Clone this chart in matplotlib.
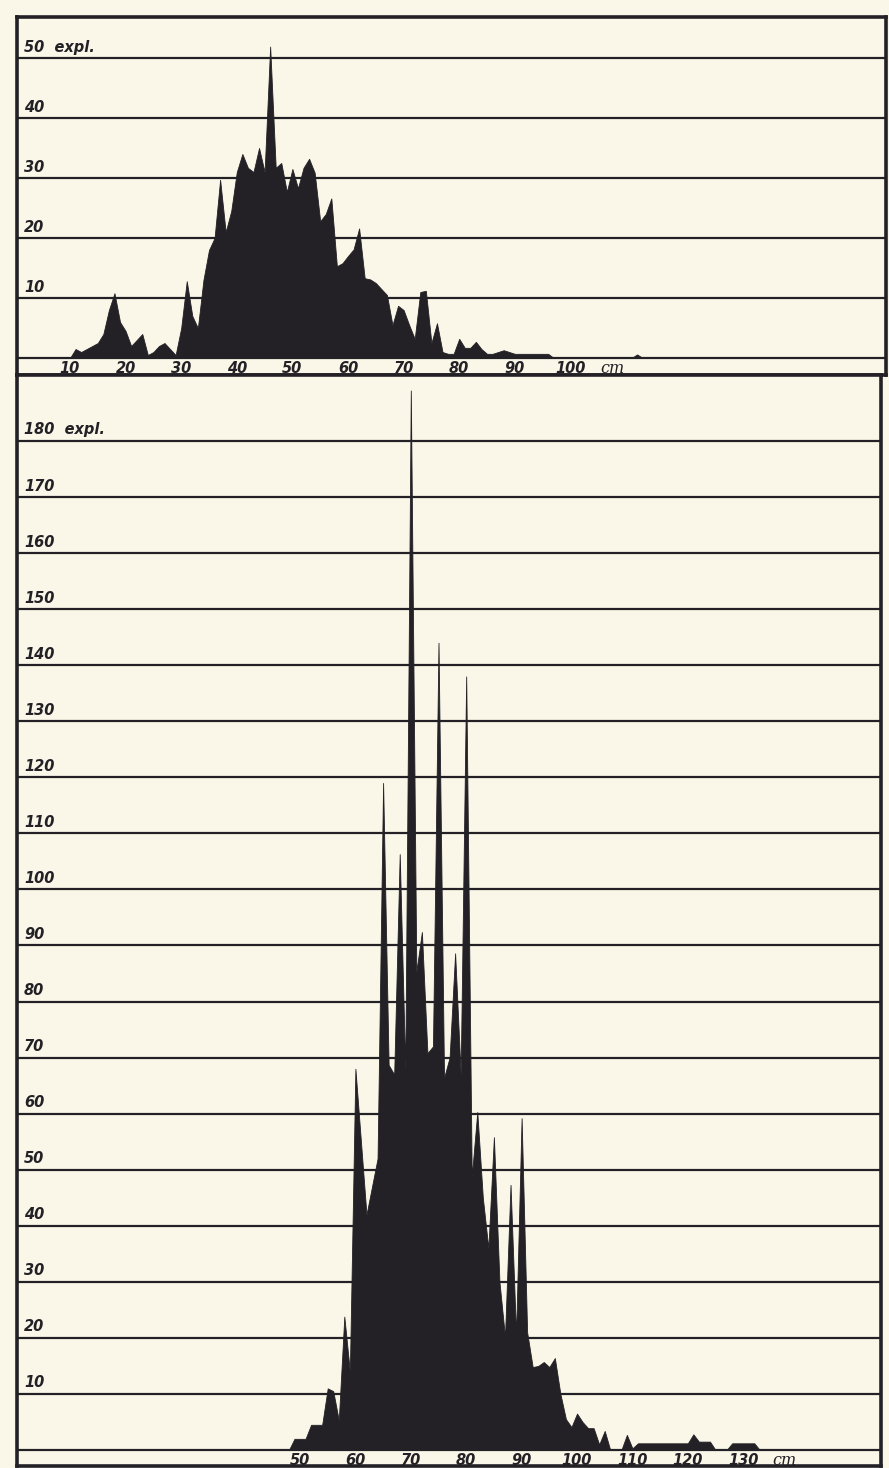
import matplotlib
matplotlib.use("Agg")
import matplotlib.pyplot as plt

# ---------------- data ----------------
# upper panel: counts per cm length class
top_cm = list(range(10, 98)) + [111, 112, 113]
top_counts = [0, 1.5, 1, 1.5, 2, 2.5, 4, 8, 10.8, 6,            # 10-19
              4.5, 2, 3, 4, 0.5, 1, 2, 2.5, 1.5, 0.5,           # 20-29
              5, 12.8, 7, 5, 13, 18, 20, 29.7, 21, 24.5,        # 30-39
              31, 34, 31.7, 31, 35, 31, 51.9, 31.7, 32.5, 27.7, # 40-49
              31.5, 28.3, 31.7, 33.2, 30.9, 22.8, 24, 26.6, 15.3, 15.8,  # 50-59
              17, 18.1, 21.6, 13.3, 13.1, 12.5, 11.5, 10.5, 5.5, 8.7,   # 60-69
              8, 5.5, 3.2, 11, 11.2, 2.5, 5.8, 1, 0.7, 0.7,     # 70-79
              3.2, 1.7, 1.7, 2.7, 1.5, 0.7, 0.7, 1, 1.3, 1,     # 80-89
              0.7, 0.7, 0.7, 0.7, 0.7, 0.7, 0.7, 0,             # 90-97
              0, 0.6, 0]                                        # 111-113

# lower panel: counts per cm length class
bot_cm = list(range(48, 134))
bot_counts = [0, 2, 2, 2, 4.5, 4.5, 4.5, 11, 10.5, 5.3,        # 48-57
              23.8, 14, 68, 55, 42, 47, 52, 119, 68.7, 67,      # 58-67
              106.3, 67.8, 189, 85.3, 92.4, 70.8, 72, 144, 66.4, 70,  # 68-77
              88.6, 67, 138, 48.7, 60.3, 45, 36, 55.8, 30, 20.2,      # 78-87
              47.3, 20.5, 59.2, 21, 14.8, 15, 15.7, 14.8, 16.4, 10,   # 88-97
              5.5, 4.1, 6.5, 5, 3.9, 3.9, 1, 3.4, 0, 0,         # 98-107
              0, 2.7, 0.3, 1.2, 1.2, 1.2, 1.2, 1.2, 1.2, 1.2,   # 108-117
              1.2, 1.2, 1.2, 2.8, 1.5, 1.5, 1.5, 0, 0, 0,       # 118-127
              1.2, 1.2, 1.2, 1.2, 1.2, 0]                       # 128-133

top_yticks = [10, 20, 30, 40, 50]
top_xticks = [10, 20, 30, 40, 50, 60, 70, 80, 90, 100]
bot_yticks = [10, 20, 30, 40, 50, 60, 70, 80, 90, 100, 110, 120,
              130, 140, 150, 160, 170, 180]
bot_xticks = [50, 60, 70, 80, 90, 100, 110, 120, 130]
unit_y = "expl."
unit_x = "cm"

# ---------------- style ----------------
PAPER = "#faf7e9"
INK = "#232126"
W, H = 889, 1468
FONT = dict(family="DejaVu Sans", style="italic", weight="bold", size=10.5, color=INK)

fig = plt.figure(figsize=(W / 100, H / 100), dpi=100, facecolor=PAPER)


def add_ax(x0, y0, x1, y1):
    return fig.add_axes([x0 / W, 1 - y1 / H, (x1 - x0) / W, (y1 - y0) / H])


def style_panel(ax, xlim, ylim, yticks, xticks, unit_x_pos):
    ax.set_facecolor(PAPER)
    ax.set_xlim(*xlim)
    ax.set_ylim(*ylim)
    ax.set_xticks([])
    ax.set_yticks([])
    for s in ax.spines.values():
        s.set_linewidth(2.6)
        s.set_color(INK)
    for v in [0] + yticks:
        ax.axhline(v, color=INK, lw=1.6, zorder=1)
    for v in yticks:
        lab = f"{v}" + (f"  {unit_y}" if v == yticks[-1] else "")
        ax.annotate(lab, xy=(0.008, v), xycoords=("axes fraction", "data"),
                    xytext=(0, 2.5), textcoords="offset points",
                    ha="left", va="bottom", **FONT)
    for v in xticks:
        ax.annotate(f"{v}", xy=(v, 0), xycoords="data",
                    xytext=(0, -2.0), textcoords="offset points",
                    ha="center", va="top", **FONT)
    ax.annotate(unit_x, xy=(unit_x_pos, 0), xycoords="data",
                xytext=(0, -1.5), textcoords="offset points",
                ha="center", va="top", family="DejaVu Serif",
                style="italic", size=11.5, color=INK)


# upper panel
ax1 = add_ax(17, 17, 886, 375)
style_panel(ax1, (0.47, 156.76), (-2.83, 56.83), top_yticks, top_xticks, 107.5)
ax1.fill_between(top_cm, top_counts, 0, color=INK, lw=0.6, edgecolor=INK, zorder=2)

# lower panel
ax2 = add_ax(17, 375, 881, 1466)
style_panel(ax2, (-1.08, 154.87), (-2.85, 191.76), bot_yticks, bot_xticks, 137.5)
ax2.fill_between(bot_cm, bot_counts, 0, color=INK, lw=0.6, edgecolor=INK, zorder=2)

fig.savefig("out.png", dpi=100, facecolor=PAPER)
